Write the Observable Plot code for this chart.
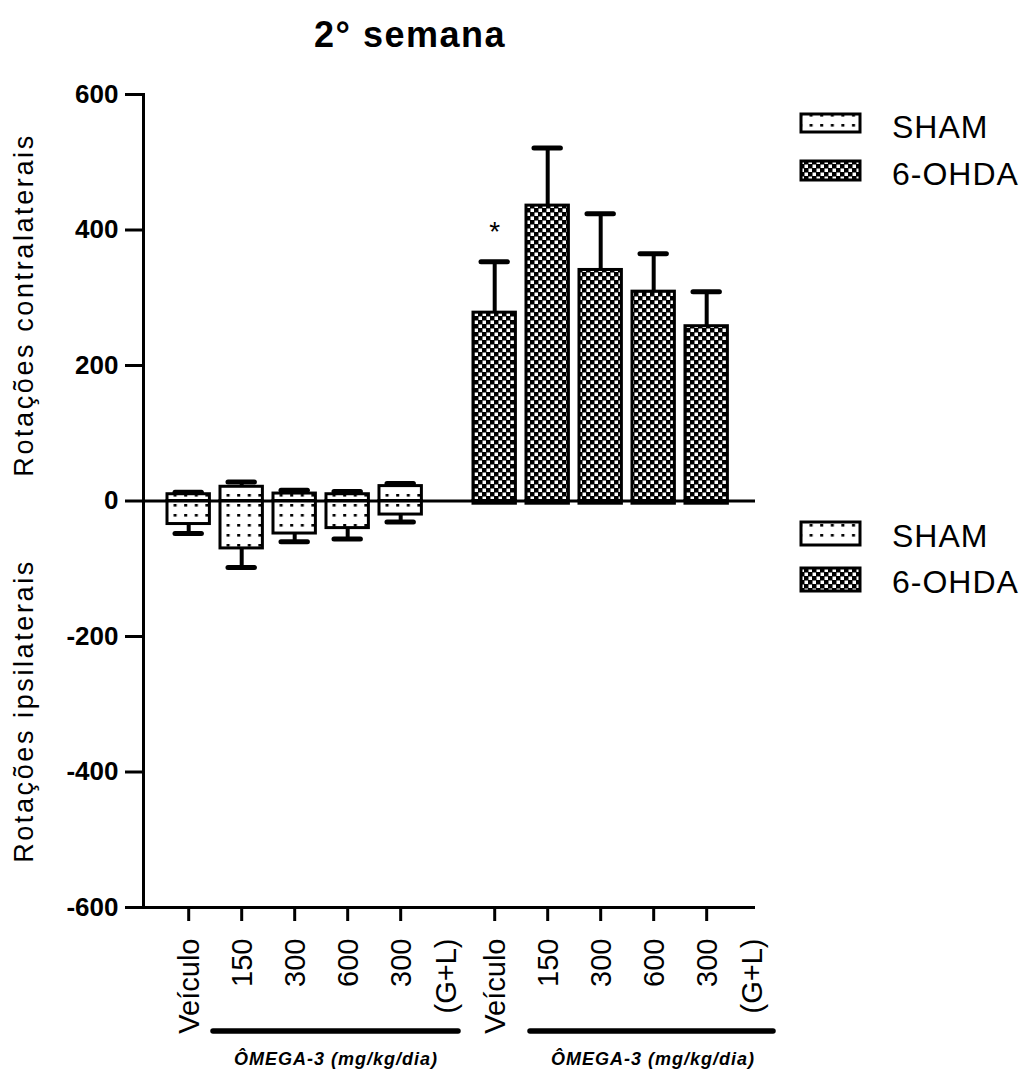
<!DOCTYPE html>
<html><head><meta charset="utf-8">
<script src="https://cdn.jsdelivr.net/npm/d3@7"></script>
<script src="https://cdn.jsdelivr.net/npm/@observablehq/plot@0.6"></script>
<style>
body{margin:0;background:#fff;}
#wrap{position:relative;width:1022px;height:1073px;overflow:hidden;font-family:"Liberation Sans",Arial,sans-serif;}
#chart{position:absolute;left:0;top:0;}
#overlay{position:absolute;left:0;top:0;pointer-events:none;}
</style></head><body>
<svg width="0" height="0" style="position:absolute">
<defs>
<pattern id="pat-sham" patternUnits="userSpaceOnUse" width="10.6" height="10">
<rect width="10.6" height="10" fill="#fff"/>
<rect x="4" y="4" width="3" height="2.6" fill="#000"/>
</pattern>
<pattern id="pat-ohda" patternUnits="userSpaceOnUse" width="8" height="8">
<rect width="8" height="8" fill="#000"/>
<rect x="0.5" y="0.5" width="3.5" height="3.5" fill="#fff"/>
<rect x="4.5" y="4.5" width="3.5" height="3.5" fill="#fff"/>
</pattern>
</defs></svg>
<div id="wrap">
<div id="chart"></div>
<svg id="overlay" width="1022" height="1073"></svg>
</div>
<script>
// ---- data ----
const groups = ["SHAM", "6-OHDA"];
const doses = ["Veículo", "150", "300", "600", "300\n(G+L)"];
const shamContra = [10, 21, 11, 10, 22];
const shamContraSem = [3, 7, 5, 4, 4];
const shamIpsi = [-34, -70, -48, -40, -20];
const shamIpsiSem = [14, 28, 12, 16, 11];
const ohdaContra = [278, 436, 341, 309, 258];
const ohdaContraSem = [75, 85, 83, 56, 51];
const ohdaIpsi = [-4, -4, -4, -4, -4];
const ohdaIpsiSem = [0, 0, 0, 0, 0];
const ohdaSig = ["*", "", "", "", ""];
const yTicks = [-600, -400, -200, 0, 200, 400, 600];
const title = "2° semana";
const yTitleTop = "Rotações contralaterais";
const yTitleBottom = "Rotações ipsilaterais";
const groupNote = "ÔMEGA-3 (mg/kg/dia)";
const patterns = {"SHAM": "url(#pat-sham)", "6-OHDA": "url(#pat-ohda)"};

const rows = [];
doses.forEach((d, i) => rows.push({group: "SHAM", dose: d, contra: shamContra[i], contraSem: shamContraSem[i], ipsi: shamIpsi[i], ipsiSem: shamIpsiSem[i], sig: ""}));
doses.forEach((d, i) => rows.push({group: "6-OHDA", dose: d, contra: ohdaContra[i], contraSem: ohdaContraSem[i], ipsi: ohdaIpsi[i], ipsiSem: ohdaIpsiSem[i], sig: ohdaSig[i]}));
const sham = rows.filter(r => r.group === "SHAM");
const ohda = rows.filter(r => r.group === "6-OHDA");

const barOpts = (y, fill) => ({fx: "group", x: "dose", y, fill, stroke: "black", strokeWidth: 3});

const plot = Plot.plot({
  width: 1022, height: 1073,
  marginTop: 94, marginBottom: 166, marginLeft: 143, marginRight: 267,
  style: {fontFamily: "'Liberation Sans', Arial, sans-serif", background: "white", color: "black", overflow: "visible"},
  fx: {domain: groups, axis: null, paddingInner: 0, paddingOuter: 0, round: false},
  x: {domain: doses, paddingInner: 0.2, paddingOuter: 0.487, align: 0.465, round: false},
  y: {domain: [-600, 600]},
  marks: [
    Plot.ruleX(rows, {fx: "group", x: "dose", y1: "contra", y2: d => d.contra + d.contraSem, strokeWidth: 4}),
    Plot.tickY(rows, {fx: "group", x: "dose", y: d => d.contra + d.contraSem, strokeWidth: 5, strokeLinecap: "round", insetLeft: 8, insetRight: 8}),
    Plot.ruleX(rows.filter(r => r.ipsiSem > 0), {fx: "group", x: "dose", y1: "ipsi", y2: d => d.ipsi - d.ipsiSem, strokeWidth: 4}),
    Plot.tickY(rows.filter(r => r.ipsiSem > 0), {fx: "group", x: "dose", y: d => d.ipsi - d.ipsiSem, strokeWidth: 5, strokeLinecap: "round", insetLeft: 8, insetRight: 8}),
    Plot.barY(sham, barOpts("contra", patterns["SHAM"])),
    Plot.barY(sham, barOpts("ipsi", patterns["SHAM"])),
    Plot.barY(ohda, barOpts("contra", patterns["6-OHDA"])),
    Plot.barY(ohda, barOpts("ipsi", patterns["6-OHDA"])),
    Plot.ruleY([0], {strokeWidth: 3}),
    Plot.ruleY([-600], {strokeWidth: 3}),
    Plot.frame({anchor: "left", facetAnchor: "left", strokeWidth: 3}),
    Plot.text(rows.filter(r => r.sig), {fx: "group", x: "dose", y: d => d.contra + d.contraSem, text: "sig", dy: -21, fontSize: 28, lineAnchor: "bottom"}),
    Plot.axisY({ticks: yTicks, tickFormat: d => String(d), tickSize: 18, tickPadding: 7, strokeWidth: 3, fontSize: 26, fontWeight: "bold", label: null}),
    Plot.axisX({tickSize: 14, strokeWidth: 3, tickFormat: () => "", label: null}),
    Plot.text(rows, {fx: "group", x: "dose", text: "dose", frameAnchor: "bottom", dy: 31, dx: -22, rotate: -90, textAnchor: "end", lineAnchor: "top", lineHeight: 1.55, fontSize: 29})
  ]
});
document.getElementById("chart").appendChild(plot);

// ---- overlay: title, axis titles, legends, group notes ----
const ov = d3.select("#overlay").style("font-family", "'Liberation Sans', Arial, sans-serif");
ov.append("text").attr("x", 410).attr("y", 47).attr("text-anchor", "middle")
  .attr("font-size", 36).attr("font-weight", "bold").attr("letter-spacing", 1.5).text(title);
[[yTitleTop, 305], [yTitleBottom, 711]].forEach(([t, cy]) => {
  ov.append("text").attr("transform", `translate(33,${cy}) rotate(-90)`).attr("text-anchor", "middle")
    .attr("font-size", 27).attr("letter-spacing", 2.6).text(t);
});
const legendBlocks = [
  {items: [{g: "SHAM", y: 114, h: 18, base: 138}, {g: "6-OHDA", y: 161, h: 19, base: 185}]},
  {items: [{g: "SHAM", y: 522, h: 23, base: 547}, {g: "6-OHDA", y: 568, h: 23, base: 593}]}
];
legendBlocks.forEach(b => b.items.forEach(it => {
  ov.append("rect").attr("x", 801).attr("y", it.y).attr("width", 59).attr("height", it.h)
    .attr("fill", patterns[it.g]).attr("stroke", "black").attr("stroke-width", 3);
  ov.append("text").attr("x", 892).attr("y", it.base).attr("font-size", 32)
    .attr("letter-spacing", 1).text(it.g);
}));
[[213, 458, 336], [530, 773, 653]].forEach(([x1, x2, cx]) => {
  ov.append("line").attr("x1", x1).attr("x2", x2).attr("y1", 1031).attr("y2", 1031)
    .attr("stroke", "black").attr("stroke-width", 5.5).attr("stroke-linecap", "round");
  ov.append("text").attr("x", cx).attr("y", 1065).attr("text-anchor", "middle")
    .attr("font-size", 18).attr("font-weight", "bold").attr("font-style", "italic")
    .attr("letter-spacing", 1).text(groupNote);
});
</script>
</body></html>
